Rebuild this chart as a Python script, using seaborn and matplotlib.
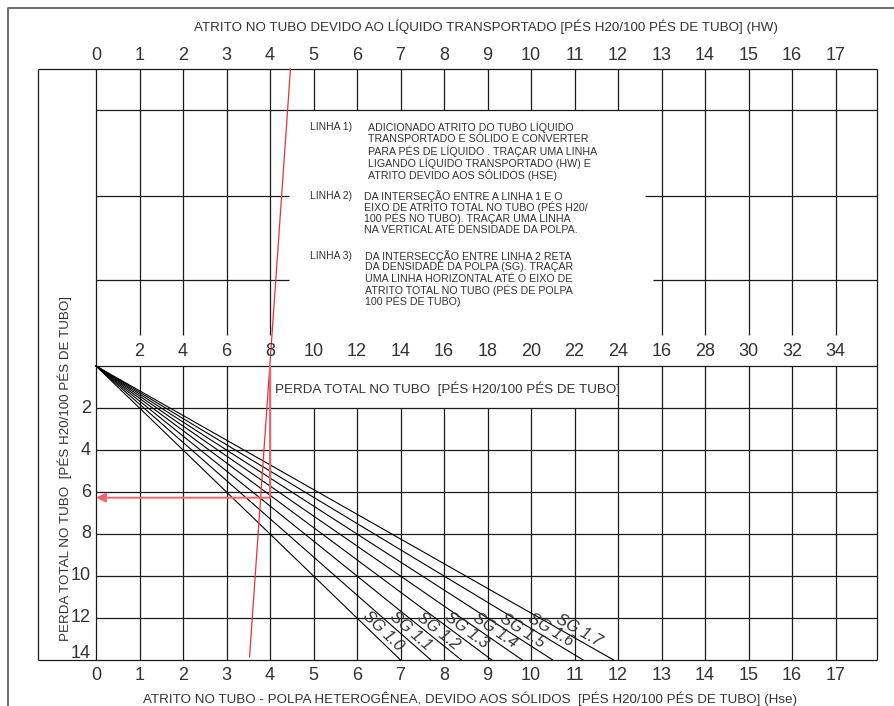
import numpy as np
import pandas as pd
import matplotlib
matplotlib.use("Agg")
import matplotlib.pyplot as plt
import seaborn as sns

# values
hw_ticks = list(range(0, 18))          # top scale (HW)
hse_ticks = list(range(0, 18))         # bottom scale (Hse)
total_labels = ['2', '4', '6', '8', '10', '12', '14', '16', '18',
                '20', '22', '24', '16', '28', '30', '32', '34']   # middle scale, as printed
perda_ticks = [2, 4, 6, 8, 10, 12, 14]  # left scale
sg_names = ['SG 1.0', 'SG 1.1', 'SG 1.2', 'SG 1.3', 'SG 1.4', 'SG 1.5', 'SG 1.6', 'SG 1.7']
sg_end_hse = [7.0, 7.7, 8.4, 9.1, 9.8, 10.5, 11.2, 11.9]   # where each ray hits perda = 14

# worked example (red lines)
ex_hw = 4.47       # on top scale
ex_hse = 3.53      # on bottom scale
ex_total = 4       # column of total = 8
ex_perda = 6.27    # result on left scale

# layout of the drawing (in chart units: x = scale column, y = perda, downwards)
BOX_L, BOX_R = -1.33, 17.95
BOX_T, BOX_B = -14.14, 14
ROWS_TOP = [-12.19, -8.1, -4.1]
TICK_END = -1.48
PX_Y = 1 / 21      # one pixel in y units

sns.set_theme(style="white")
plt.rcParams['font.family'] = ['Liberation Sans', 'DejaVu Sans']
INK = '#1a1a1a'
TXT = '#333333'
RED = '#e8323c'
PINK = '#f0666e'

fig = plt.figure(figsize=(8.94, 7.06), dpi=100)
ax = fig.add_axes([0, 0, 1, 1])
ax.set_xlim(-96 / 43.5, 798 / 43.5)
ax.set_ylim(340 / 21, -366 / 21)
ax.axis('off')

lw = 0.9
# outer frame
ax.plot([-2.02, -2.02, 20], [17, -17.05, -17.05], color='#555555', lw=1.2)

# inner box
ax.vlines([BOX_L, BOX_R], BOX_T, BOX_B, color=INK, lw=lw)
ax.hlines([BOX_T, BOX_B], BOX_L, BOX_R, color=INK, lw=lw)

# vertical grid
for c in hw_ticks:
    if c == 0:
        ax.vlines(c, BOX_T, BOX_B, color=INK, lw=lw)
        continue
    if c <= 4 or c >= 13:
        ax.vlines(c, BOX_T, TICK_END, color=INK, lw=lw)
    else:
        ax.vlines(c, BOX_T, ROWS_TOP[0], color=INK, lw=lw)
    if c <= 4 or c >= 12:
        ax.vlines(c, 0, BOX_B, color=INK, lw=lw)
    else:
        ax.vlines(c, 2, BOX_B, color=INK, lw=lw)

# horizontal grid
ax.hlines(ROWS_TOP[0], 0, BOX_R, color=INK, lw=lw)
ax.hlines(ROWS_TOP[1], 0, 4.44, color=INK, lw=lw)
ax.hlines(ROWS_TOP[1], 12.62, BOX_R, color=INK, lw=lw)
ax.hlines(ROWS_TOP[2], 0, 4.44, color=INK, lw=lw)
ax.hlines(ROWS_TOP[2], 12.8, BOX_R, color=INK, lw=lw)
ax.hlines([0] + perda_ticks[:-1], 0, BOX_R, color=INK, lw=lw)

# SG rays
rows = []
for name, xe in zip(sg_names, sg_end_hse):
    rows.append({'sg': name, 'hse': 0.0, 'perda': 0.0})
    rows.append({'sg': name, 'hse': xe, 'perda': 14.0})
df = pd.DataFrame(rows)
sns.lineplot(data=df, x='hse', y='perda', units='sg', estimator=None, sort=False,
             color='black', lw=0.8, ax=ax, legend=False)
ax.set_xlim(-96 / 43.5, 798 / 43.5)
ax.set_ylim(340 / 21, -366 / 21)
ax.axis('off')

# SG labels along rays
t = 0.925
for name, xe in zip(sg_names, sg_end_hse):
    p0 = ax.transData.transform((0, 0))
    p1 = ax.transData.transform((xe, 14))
    ang = np.degrees(np.arctan2(p1[1] - p0[1], p1[0] - p0[0]))
    ax.annotate(name, (xe * t, 14 * t), xytext=(0, 1), textcoords='offset points',
                rotation=ang, rotation_mode='anchor', ha='center', va='bottom',
                fontsize=11.5, style='italic', color=TXT)

# red example lines
ax.plot([ex_hw, ex_hse], [BOX_T, 13.86], color=RED, lw=0.9)
ax.plot([ex_total, ex_total], [0, ex_perda], color=PINK, lw=1.4)
ax.annotate('', xy=(0, ex_perda), xytext=(ex_total, ex_perda),
            arrowprops=dict(arrowstyle='-|>', color=PINK, lw=1.4,
                            mutation_scale=14, shrinkA=0, shrinkB=0))

# scale labels
for c in hw_ticks:
    ax.text(c, -14.8, str(c), ha='center', va='center', fontsize=13, color=TXT)
for c in hse_ticks:
    ax.text(c, 14.76, str(c), ha='center', va='center', fontsize=13, color=TXT)
for c, lab in zip(range(1, 18), total_labels):
    ax.text(c, -0.67, lab, ha='center', va='center', fontsize=13, color=TXT)
for v in perda_ticks:
    ax.text(-0.12, min(v, 13.7), str(v), ha='right', va='center', fontsize=13, color=TXT)

# titles
ax.text(8.97, -16.14, 'ATRITO NO TUBO DEVIDO AO LÍQUIDO TRANSPORTADO [PÉS H20/100 PÉS DE TUBO] (HW)',
        ha='center', va='center', fontsize=9.6, color=TXT)
ax.text(8.6, 15.86, 'ATRITO NO TUBO - POLPA HETEROGÊNEA, DEVIDO AOS SÓLIDOS  [PÉS H20/100 PÉS DE TUBO] (Hse)',
        ha='center', va='center', fontsize=9.6, color=TXT)
ax.text(-0.71, 4.9, 'PERDA TOTAL NO TUBO  [PÉS H20/100 PÉS DE TUBO]', rotation=90,
        ha='center', va='center', fontsize=9.6, color=TXT)
ax.text(4.11, 1.1, 'PERDA TOTAL NO TUBO  [PÉS H20/100 PÉS DE TUBO]',
        ha='left', va='center', fontsize=9.6, color=TXT)

# instructions
linha1 = ["ADICIONADO ATRITO DO TUBO LÍQUIDO", "TRANSPORTADO E SÓLIDO E CONVERTER",
          "PARA PÉS DE LÍQUIDO . TRAÇAR UMA LINHA", "LIGANDO LÍQUIDO TRANSPORTADO (HW) E",
          "ATRITO DEVIDO AOS SÓLIDOS (HSE)"]
linha2 = ["DA INTERSEÇÃO ENTRE A LINHA 1 E O", "EIXO DE ATRITO TOTAL NO TUBO (PÉS H20/",
          "100 PÉS NO TUBO). TRAÇAR UMA LINHA", "NA VERTICAL ATÉ DENSIDADE DA POLPA."]
linha3 = ["DA INTERSECÇÃO ENTRE LINHA 2 RETA", "DA DENSIDADE DA POLPA (SG). TRAÇAR",
          "UMA LINHA HORIZONTAL ATÉ O EIXO DE", "ATRITO TOTAL NO TUBO (PÉS DE POLPA",
          "100 PÉS DE TUBO)"]
notes = [('LINHA 1)', linha1, -11.38, 6.25, 12),
         ('LINHA 2)', linha2, -8.1, 6.16, 11.4),
         ('LINHA 3)', linha3, -5.24, 6.18, 11.3)]
for tag, body, y, xb, step in notes:
    ax.text(4.92, y, tag, ha='left', va='center', fontsize=7.5, color=TXT)
    for i, line in enumerate(body):
        ax.text(xb, y + i * step * PX_Y, line, ha='left', va='center',
                fontsize=7.7, color=TXT)

fig.savefig('out.png', dpi=100)
